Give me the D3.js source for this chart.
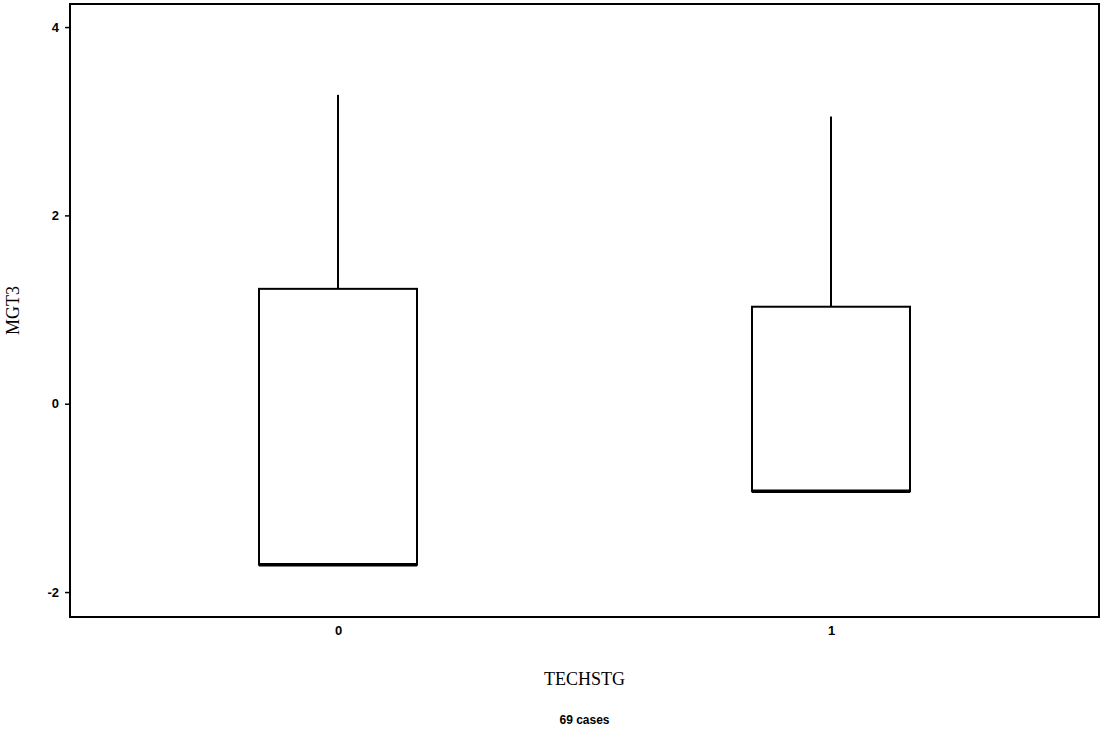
<!DOCTYPE html>
<html><head><meta charset="utf-8">
<script src="https://cdn.jsdelivr.net/npm/d3@7"></script>
<style>body{margin:0;background:#fff}</style>
</head><body>
<svg id="c" width="1107" height="729"></svg>
<script>
const categories = ["0", "1"];
const q1 = [-1.71, -0.93];
const q3 = [1.22, 1.03];
const medians = [-1.71, -0.93];
const whiskerLow = [-1.71, -0.93];
const whiskerHigh = [3.28, 3.05];
const yTicks = [-2, 0, 2, 4];

const svg = d3.select("#c");
const L = 70, R = 1099, T = 4, B = 617;
const y = d3.scaleLinear().domain([-2.265, 4.245]).range([B, T]);
const x = d3.scalePoint().domain(categories).range([L, R]).padding(0.5436);
const bw = 158;

svg.append("rect").attr("x", L).attr("y", T).attr("width", R - L).attr("height", B - T)
  .attr("fill", "none").attr("stroke", "#000").attr("stroke-width", 2);

const ya = svg.append("g").attr("transform", `translate(${L},0)`)
  .call(d3.axisLeft(y).tickValues(yTicks).tickSize(5).tickPadding(6).tickFormat(d => String(d)));
ya.select(".domain").remove();
ya.selectAll("line").attr("stroke-width", 1.5);
ya.selectAll("text").attr("font-family", "Liberation Sans, Arial, sans-serif").attr("font-weight", "bold").attr("font-size", 13);

const xa = svg.append("g").attr("transform", `translate(0,${B})`)
  .call(d3.axisBottom(x).tickSize(0).tickPadding(9));
xa.select(".domain").remove();
xa.selectAll("text").attr("font-family", "Liberation Sans, Arial, sans-serif").attr("font-weight", "bold").attr("font-size", 13);

const g = svg.append("g");
categories.forEach((c, i) => {
  const cx = x(c);
  g.append("line").attr("x1", cx).attr("x2", cx).attr("y1", y(q3[i])).attr("y2", y(whiskerHigh[i]))
    .attr("stroke", "#000").attr("stroke-width", 2);
  g.append("line").attr("x1", cx).attr("x2", cx).attr("y1", y(q1[i])).attr("y2", y(whiskerLow[i]))
    .attr("stroke", "#000").attr("stroke-width", 2);
  g.append("rect").attr("x", cx - bw / 2).attr("y", y(q3[i])).attr("width", bw)
    .attr("height", y(q1[i]) - y(q3[i])).attr("fill", "#fff").attr("stroke", "#000").attr("stroke-width", 2);
  g.append("line").attr("x1", cx - bw / 2).attr("x2", cx + bw / 2).attr("y1", y(medians[i])).attr("y2", y(medians[i]))
    .attr("stroke", "#000").attr("stroke-width", 3.5);
});

svg.append("text").attr("transform", `translate(19,${(T + B) / 2}) rotate(-90)`).attr("text-anchor", "middle")
  .attr("font-family", "Liberation Serif, Times New Roman, serif").attr("font-size", 18).text("MGT3");
svg.append("text").attr("x", (L + R) / 2).attr("y", 685).attr("text-anchor", "middle")
  .attr("font-family", "Liberation Serif, Times New Roman, serif").attr("font-size", 18).text("TECHSTG");
svg.append("text").attr("x", (L + R) / 2).attr("y", 724).attr("text-anchor", "middle")
  .attr("font-family", "Liberation Sans, Arial, sans-serif").attr("font-weight", "bold").attr("font-size", 12).text("69 cases");
</script>
</body></html>
